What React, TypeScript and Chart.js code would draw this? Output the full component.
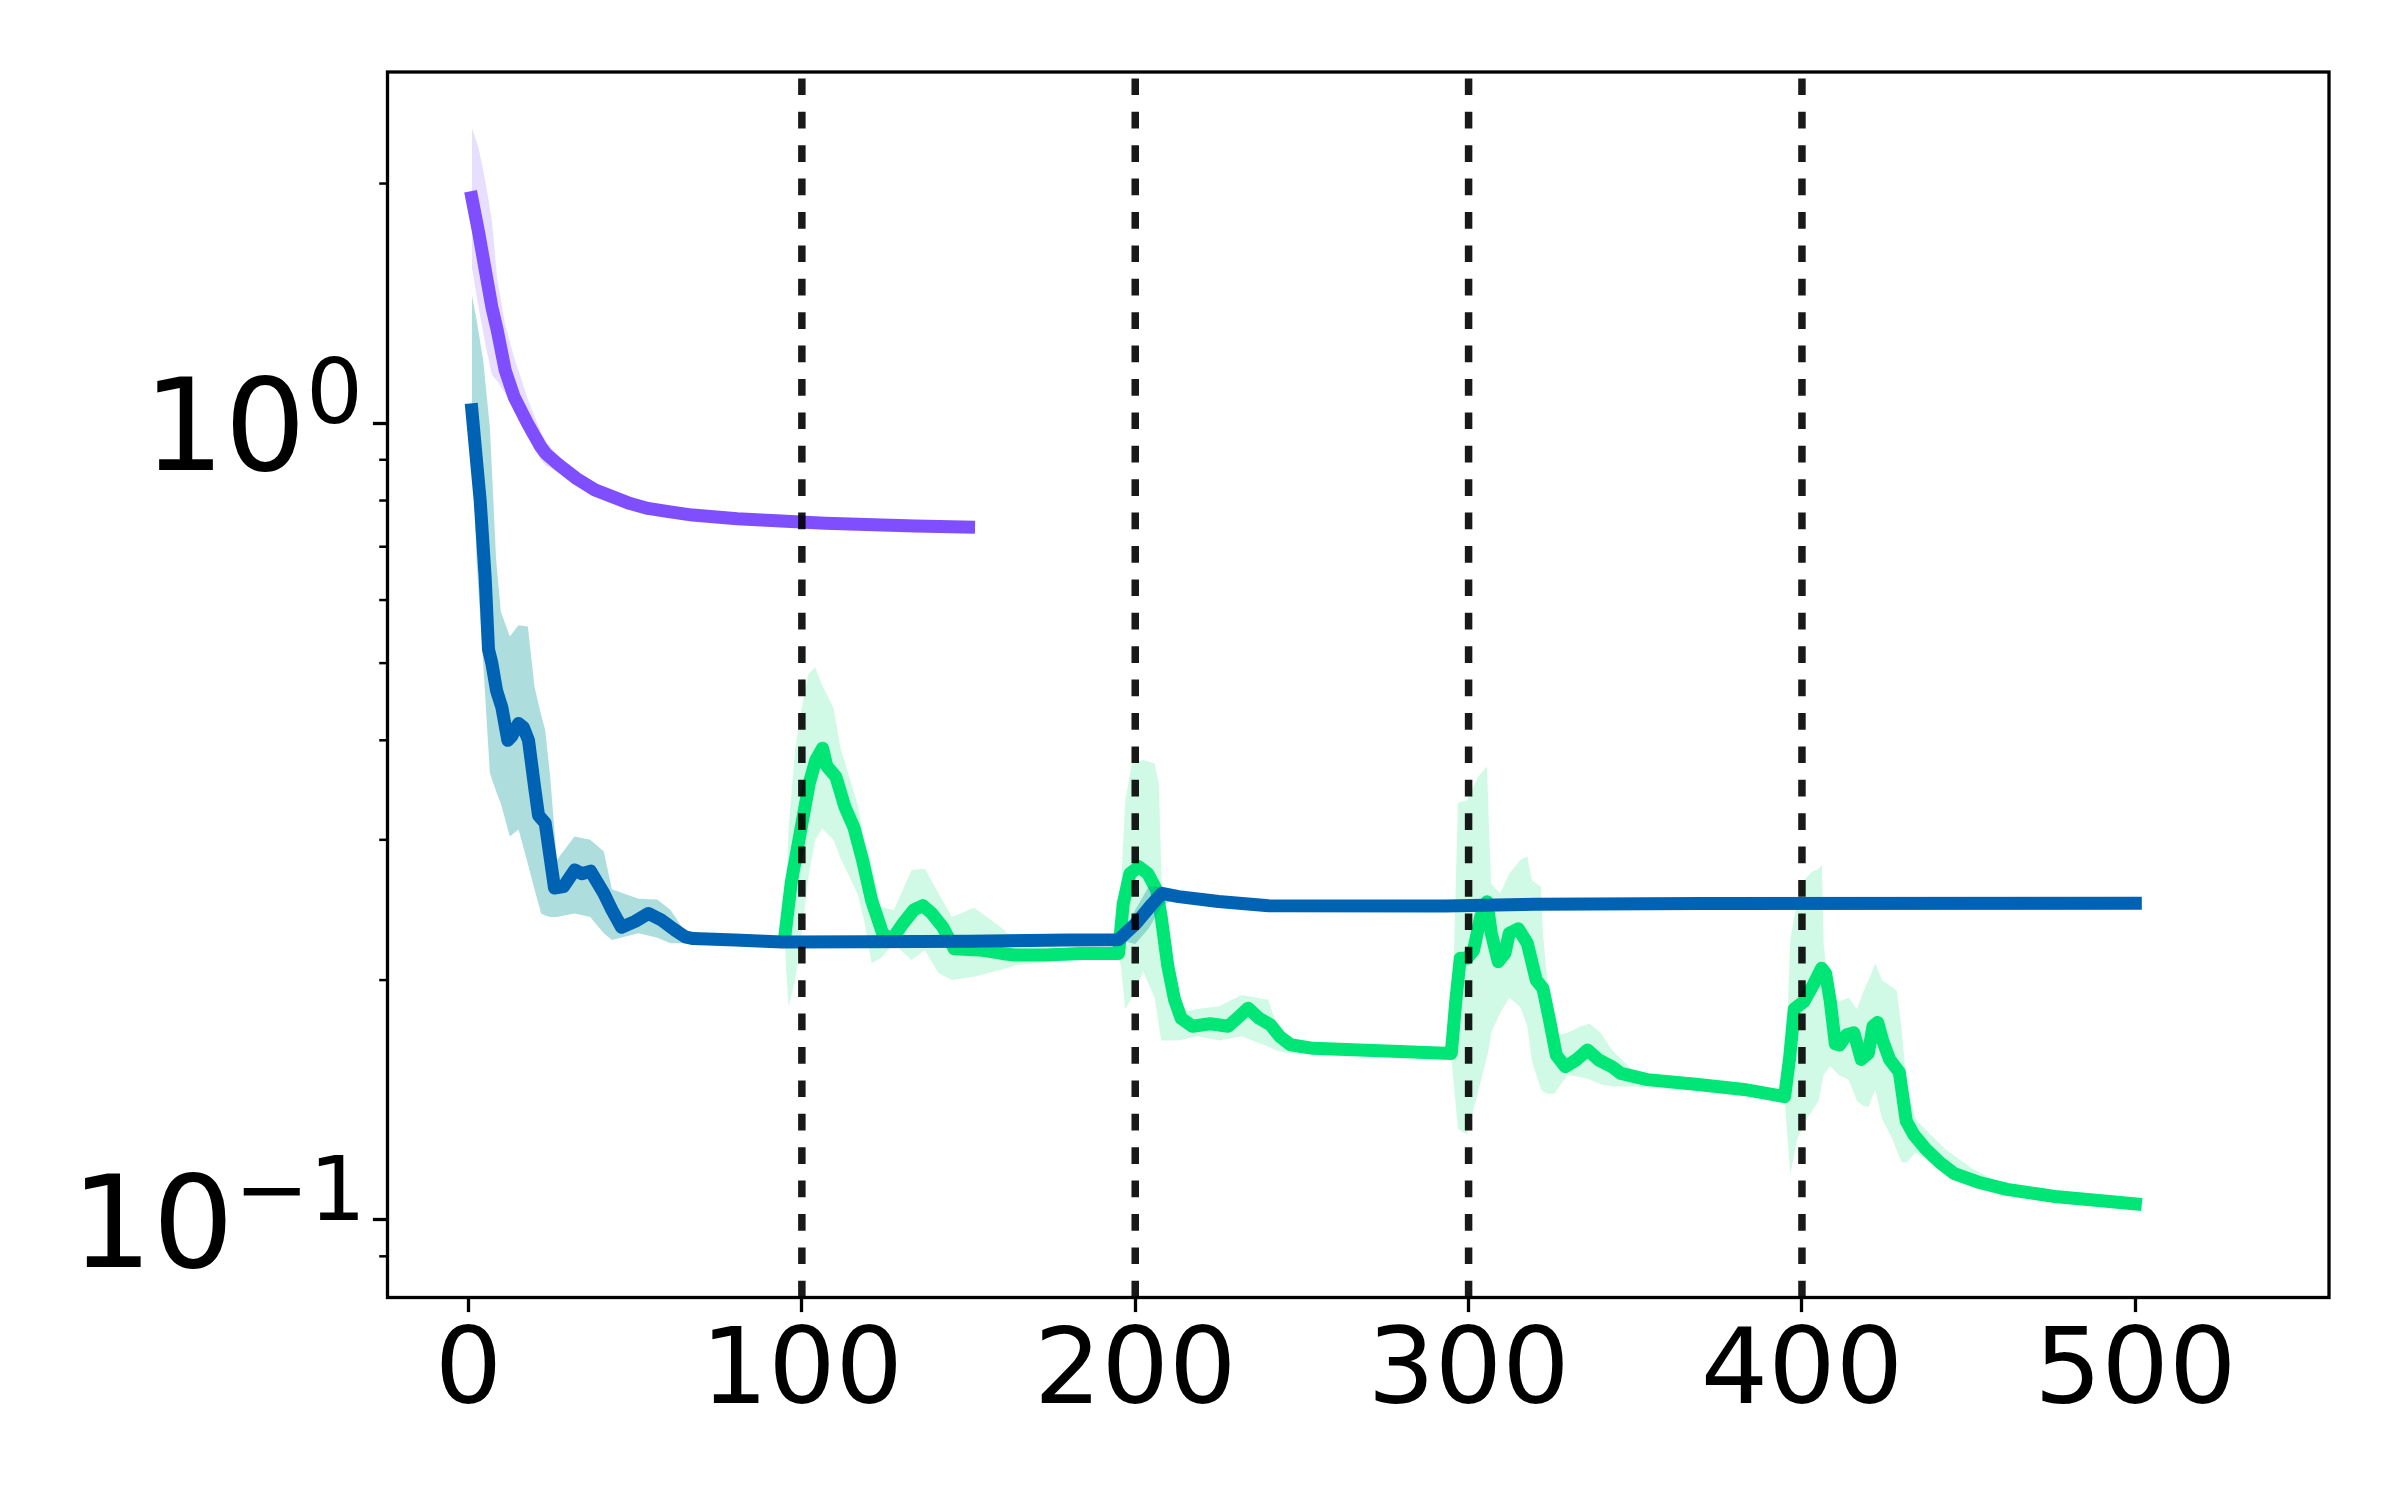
import React, { useEffect, useRef } from "react";
import { Chart, registerables } from "chart.js";

Chart.register(...registerables);

const FONT = '"DejaVu Sans", "Liberation Sans", sans-serif';

// Axis limits and ticks
const X_MIN = -24.3;
const X_MAX = 558.1;
const Y_MIN = 0.0799;
const Y_MAX = 2.761;
const xTicks = [0, 100, 200, 300, 400, 500];
const yMajorTicks = [0.1, 1];
const yLabelBase = "10";
const yLabelExponents = ["\u22121", "0"];
const yMinorTicks = [0.09, 0.2, 0.3, 0.4, 0.5, 0.6, 0.7, 0.8, 0.9, 2];
const phaseBoundaries = [100, 200, 300, 400];

// Purple series (mean + band)
const purpleX = [1, 3, 5, 7, 8.6, 11, 13.7, 17.7, 21.7, 23.2, 27.2, 32.5, 37.9, 43.1, 48.5, 53.8, 60.5, 67.2, 80.6, 107, 134, 150];
const purpleY = [1.92, 1.74, 1.56, 1.4, 1.31, 1.166, 1.079, 1.0, 0.934, 0.916, 0.886, 0.852, 0.825, 0.809, 0.793, 0.782, 0.774, 0.767, 0.759, 0.749, 0.743, 0.741];
const purpleUpper = [2.35, 2.22, 2.02, 1.8, 1.52, 1.33, 1.21, 1.075, 0.975, 0.95, 0.905, 0.862, 0.832, 0.815, 0.798, 0.787, 0.778, 0.771, 0.762, 0.752, 0.746, 0.744];
const purpleLower = [1.57, 1.4, 1.26, 1.15, 1.13, 1.09, 1.04, 0.965, 0.9, 0.885, 0.868, 0.842, 0.818, 0.803, 0.788, 0.777, 0.77, 0.763, 0.756, 0.746, 0.74, 0.738];

// Blue series
const blueX = [1, 3.5, 5, 6, 7, 8.4, 10, 11.8, 13, 15, 16.5, 18, 19.8, 21, 23, 25.8, 28.5, 31.9, 34, 36.6, 40.6, 43, 45.9, 50, 54, 58, 62, 65, 67.4, 80, 94, 120, 150, 180, 195, 200, 205, 208, 213, 225, 240, 293, 320, 370, 500];
const blueY = [1.04, 0.8, 0.64, 0.52, 0.5, 0.462, 0.44, 0.4, 0.405, 0.42, 0.415, 0.4, 0.35, 0.322, 0.315, 0.261, 0.262, 0.275, 0.272, 0.274, 0.257, 0.245, 0.233, 0.237, 0.2425, 0.2377, 0.231, 0.2266, 0.2255, 0.2245, 0.2233, 0.2235, 0.2238, 0.2245, 0.2248, 0.235, 0.249, 0.257, 0.2546, 0.251, 0.248, 0.2477, 0.249, 0.2495, 0.2497];
const blueBandX = [1, 2.4, 4.4, 6.4, 8.3, 9.7, 12.4, 15, 17.8, 19.8, 21.8, 23, 24.5, 26.5, 31.8, 36.5, 40.6, 43, 51, 56.6, 60.6, 64.7, 68, 100, 195, 200, 204, 208, 212, 220, 500];
const blueUpper = [1.45, 1.35, 1.2, 0.99, 0.673, 0.58, 0.54, 0.558, 0.556, 0.467, 0.43, 0.412, 0.36, 0.283, 0.303, 0.3, 0.29, 0.26, 0.253, 0.2525, 0.245, 0.231, 0.226, 0.2235, 0.2248, 0.245, 0.262, 0.262, 0.256, 0.251, 0.2497];
const blueLower = [1.0, 0.673, 0.5, 0.364, 0.345, 0.333, 0.303, 0.309, 0.28, 0.26, 0.2425, 0.241, 0.24, 0.24, 0.2425, 0.24, 0.229, 0.2245, 0.229, 0.226, 0.2225, 0.2225, 0.222, 0.2233, 0.2248, 0.222, 0.232, 0.248, 0.253, 0.251, 0.2497];

// Green series
const greenX = [95, 96.8, 99.5, 102.2, 104.2, 106.2, 107.5, 110.2, 112.9, 115.6, 118.2, 120.9, 124.2, 126.9, 130.3, 133.6, 136.3, 139, 142.3, 145.7, 150, 154.4, 160, 163.8, 173, 183.6, 195, 196.4, 198.4, 201.1, 203.8, 206.4, 207.8, 209.8, 211.8, 213.8, 217.2, 222.5, 227.9, 230.5, 233.9, 237.2, 240.6, 243.3, 246.6, 253.3, 273.4, 294.8, 296.2, 297.5, 299.5, 301.5, 303.6, 305.5, 306.8, 308.9, 310.9, 312.2, 314.9, 317.6, 320.3, 322.3, 324.3, 326.3, 329, 332.3, 335.7, 339, 343, 345.7, 353.6, 368.2, 382.6, 394.8, 396.3, 397.7, 400.6, 403.5, 405.9, 407.1, 408.5, 410, 411.3, 413.4, 415.6, 417.8, 419.9, 421.3, 422.7, 424.2, 426.3, 429.2, 431.3, 433.5, 437.1, 441.4, 445.7, 452.9, 461.5, 475.9, 500];
const greenY = [0.229, 0.265, 0.306, 0.353, 0.378, 0.391, 0.371, 0.36, 0.33, 0.311, 0.283, 0.252, 0.229, 0.2245, 0.2355, 0.245, 0.248, 0.2425, 0.233, 0.219, 0.2185, 0.218, 0.216, 0.215, 0.215, 0.216, 0.216, 0.2495, 0.272, 0.2775, 0.272, 0.2595, 0.24, 0.208, 0.189, 0.179, 0.175, 0.1763, 0.175, 0.179, 0.1844, 0.179, 0.1757, 0.17, 0.1659, 0.1642, 0.1631, 0.1618, 0.189, 0.213, 0.213, 0.218, 0.24, 0.2508, 0.229, 0.211, 0.216, 0.229, 0.232, 0.2225, 0.2, 0.1953, 0.178, 0.161, 0.1557, 0.1588, 0.1634, 0.1588, 0.1557, 0.1527, 0.15, 0.148, 0.1458, 0.1428, 0.1597, 0.184, 0.188, 0.1977, 0.207, 0.204, 0.188, 0.1664, 0.1658, 0.1707, 0.1717, 0.159, 0.1618, 0.175, 0.177, 0.168, 0.159, 0.1533, 0.133, 0.128, 0.1228, 0.118, 0.1143, 0.1115, 0.1092, 0.107, 0.1047];
const greenBandX = [
  95, 96, 98, 100, 102, 104, 106, 109.5, 111.5, 114.2, 116.9, 118.9, 120.9, 123.6, 127.6, 132.9, 136.9, 141, 145, 151.7, 159.7, 165, 175, 185, 195,
  195.7, 197, 199, 202.4, 205.8, 207.1, 207.8, 208.4, 210.4, 213, 218.5, 225.2, 231.9, 239.9, 242.6, 245.3, 250, 260, 280, 294.8,
  296.8, 299.5, 302.9, 305.5, 306.2, 306.8, 309.5, 312.2, 315.5, 317.6, 319, 321.7, 322.3, 323.7, 325.7, 329.7, 333.6, 336.3, 339.6, 343, 350, 370, 394.8,
  396.5, 398.5, 401, 403, 405, 406, 406.5, 408.5, 411, 414, 416.5, 418.5, 420, 422, 424, 427, 428.5, 430, 431.5, 434, 438.5, 443, 451, 460, 475, 500,
];
const greenUpper = [
  0.245, 0.31, 0.39, 0.44, 0.485, 0.494, 0.47, 0.439, 0.393, 0.36, 0.33, 0.297, 0.28, 0.247, 0.245, 0.275, 0.276, 0.257, 0.24, 0.2465, 0.233, 0.2225, 0.219, 0.219, 0.218,
  0.26, 0.336, 0.374, 0.378, 0.374, 0.353, 0.2775, 0.229, 0.19, 0.182, 0.184, 0.1855, 0.1915, 0.189, 0.175, 0.168, 0.166, 0.165, 0.1635, 0.1625,
  0.334, 0.336, 0.36, 0.371, 0.306, 0.264, 0.257, 0.272, 0.283, 0.286, 0.267, 0.262, 0.229, 0.198, 0.17, 0.1717, 0.175, 0.1763, 0.1717, 0.1634, 0.153, 0.149, 0.1435,
  0.225, 0.25, 0.268, 0.2735, 0.276, 0.279, 0.222, 0.19, 0.188, 0.19, 0.184, 0.194, 0.2, 0.21, 0.2, 0.196, 0.194, 0.1717, 0.147, 0.134, 0.128, 0.1227, 0.116, 0.111, 0.108, 0.105,
];
const greenLower = [
  0.215, 0.185, 0.2, 0.23, 0.27, 0.3, 0.31, 0.3, 0.285, 0.27, 0.255, 0.235, 0.21, 0.213, 0.222, 0.212, 0.218, 0.204, 0.2, 0.202, 0.206, 0.209, 0.211, 0.212, 0.214,
  0.208, 0.184, 0.19, 0.205, 0.19, 0.175, 0.168, 0.168, 0.168, 0.168, 0.17, 0.168, 0.17, 0.165, 0.163, 0.162, 0.162, 0.161, 0.16, 0.16,
  0.13, 0.128, 0.145, 0.16, 0.165, 0.172, 0.182, 0.19, 0.185, 0.175, 0.158, 0.146, 0.145, 0.144, 0.144, 0.152, 0.151, 0.15, 0.148, 0.147, 0.147, 0.145, 0.142,
  0.114, 0.126, 0.133, 0.137, 0.141, 0.148, 0.152, 0.156, 0.152, 0.15, 0.141, 0.139, 0.1386, 0.1458, 0.134, 0.1266, 0.122, 0.118, 0.118, 0.1215, 0.118, 0.114, 0.111, 0.1075, 0.1055, 0.104,
];

const PURPLE = "#7f4fff";
const PURPLE_BAND = "rgba(127,79,255,0.18)";
const BLUE = "#0062b2";
const BLUE_BAND = "rgba(0,150,150,0.32)";
const GREEN = "#00e676";
const GREEN_BAND = "rgba(0,230,118,0.18)";

const pts = (xs: number[], ys: number[]) => xs.map((x, i) => ({ x, y: ys[i] }));

const bandEdge = (xs: number[], ys: number[], order: number, fill: any, bg: string) => ({
  type: "line" as const,
  data: pts(xs, ys),
  borderColor: "rgba(0,0,0,0)",
  borderWidth: 0,
  pointRadius: 0,
  tension: 0,
  fill,
  backgroundColor: bg,
  order,
});

const meanLine = (xs: number[], ys: number[], color: string, order: number) => ({
  type: "line" as const,
  data: pts(xs, ys),
  borderColor: color,
  borderWidth: 13,
  borderCapStyle: "square" as const,
  borderJoinStyle: "round" as const,
  pointRadius: 0,
  tension: 0,
  fill: false,
  order,
});

const axesDecor = {
  id: "axesDecor",
  afterDraw(chart: any) {
    const { ctx, chartArea: a, scales } = chart;
    const y = scales.y;
    ctx.save();
    // frame (spines)
    ctx.strokeStyle = "#000";
    ctx.lineWidth = 3.3;
    ctx.strokeRect(a.left, a.top, a.right - a.left, a.bottom - a.top);
    // minor ticks
    ctx.lineWidth = 2.5;
    for (const v of yMinorTicks) {
      const py = y.getPixelForValue(v);
      ctx.beginPath();
      ctx.moveTo(a.left - 8.3, py);
      ctx.lineTo(a.left, py);
      ctx.stroke();
    }
    // y tick labels (10 with superscript exponent)
    ctx.fillStyle = "#000";
    ctx.textBaseline = "alphabetic";
    const labelRight = a.left - 29.5;
    yMajorTicks.forEach((v, i) => {
      const py = y.getPixelForValue(v);
      const exp = yLabelExponents[i];
      ctx.font = `89.6px ${FONT}`;
      ctx.textAlign = "left";
      const m = ctx.measureText(exp);
      const expStart = labelRight - m.actualBoundingBoxRight;
      ctx.fillText(exp, expStart, py);
      ctx.font = `128px ${FONT}`;
      ctx.textAlign = "right";
      ctx.fillText(yLabelBase, expStart, py + 46.8);
    });
    ctx.restore();
  },
};

export default function App() {
  const ref = useRef<HTMLCanvasElement>(null);
  useEffect(() => {
    document.body.style.margin = "0";
    const canvas = ref.current!;
    const datasets: any[] = [
      bandEdge(purpleX, purpleUpper, 100, false, PURPLE_BAND),
      bandEdge(purpleX, purpleLower, 99, "-1", PURPLE_BAND),
      meanLine(purpleX, purpleY, PURPLE, 98),
      bandEdge(greenBandX, greenUpper, 90, false, GREEN_BAND),
      bandEdge(greenBandX, greenLower, 89, "-1", GREEN_BAND),
      meanLine(greenX, greenY, GREEN, 88),
      bandEdge(blueBandX, blueUpper, 80, false, BLUE_BAND),
      bandEdge(blueBandX, blueLower, 79, "-1", BLUE_BAND),
      meanLine(blueX, blueY, BLUE, 78),
      ...phaseBoundaries.map((b) => ({
        type: "line" as const,
        data: [
          { x: b, y: Y_MIN },
          { x: b, y: Y_MAX },
        ],
        borderColor: "rgba(0,0,0,0.9)",
        borderWidth: 7.5,
        borderDash: [16.7, 16.7],
        borderCapStyle: "butt" as const,
        pointRadius: 0,
        fill: false,
        order: 1,
      })),
    ];
    const chart = new Chart(canvas, {
      type: "line",
      data: { datasets },
      options: {
        animation: false,
        responsive: false,
        devicePixelRatio: 1,
        layout: { padding: { top: 72, right: 71, left: 0, bottom: 0 } },
        plugins: {
          legend: { display: false },
          tooltip: { enabled: false },
          title: { display: false },
        },
        scales: {
          x: {
            type: "linear",
            min: X_MIN,
            max: X_MAX,
            afterBuildTicks: (s: any) => {
              s.ticks = xTicks.map((v) => ({ value: v }));
            },
            afterFit: (s: any) => {
              s.height = 202.5;
            },
            border: { display: false },
            grid: {
              drawOnChartArea: false,
              drawTicks: true,
              tickLength: 14.6,
              tickWidth: 3.3,
              tickColor: "#000",
            },
            ticks: {
              font: { family: FONT, size: 106 },
              color: "#000",
              padding: 0,
              maxRotation: 0,
              autoSkip: false,
              callback: (v: any) => String(v),
            },
          },
          y: {
            type: "logarithmic",
            min: Y_MIN,
            max: Y_MAX,
            afterBuildTicks: (s: any) => {
              s.ticks = yMajorTicks.map((v) => ({ value: v }));
            },
            afterFit: (s: any) => {
              s.width = 387.5;
            },
            border: { display: false },
            grid: {
              drawOnChartArea: false,
              drawTicks: true,
              tickLength: 14.6,
              tickWidth: 3.3,
              tickColor: "#000",
            },
            ticks: { display: false },
          },
        },
      },
      plugins: [axesDecor],
    } as any);
    return () => chart.destroy();
  }, []);
  return (
    <div style={{ width: 2400, height: 1500 }}>
      <canvas ref={ref} width={2400} height={1500} style={{ display: "block", width: 2400, height: 1500 }} />
    </div>
  );
}
